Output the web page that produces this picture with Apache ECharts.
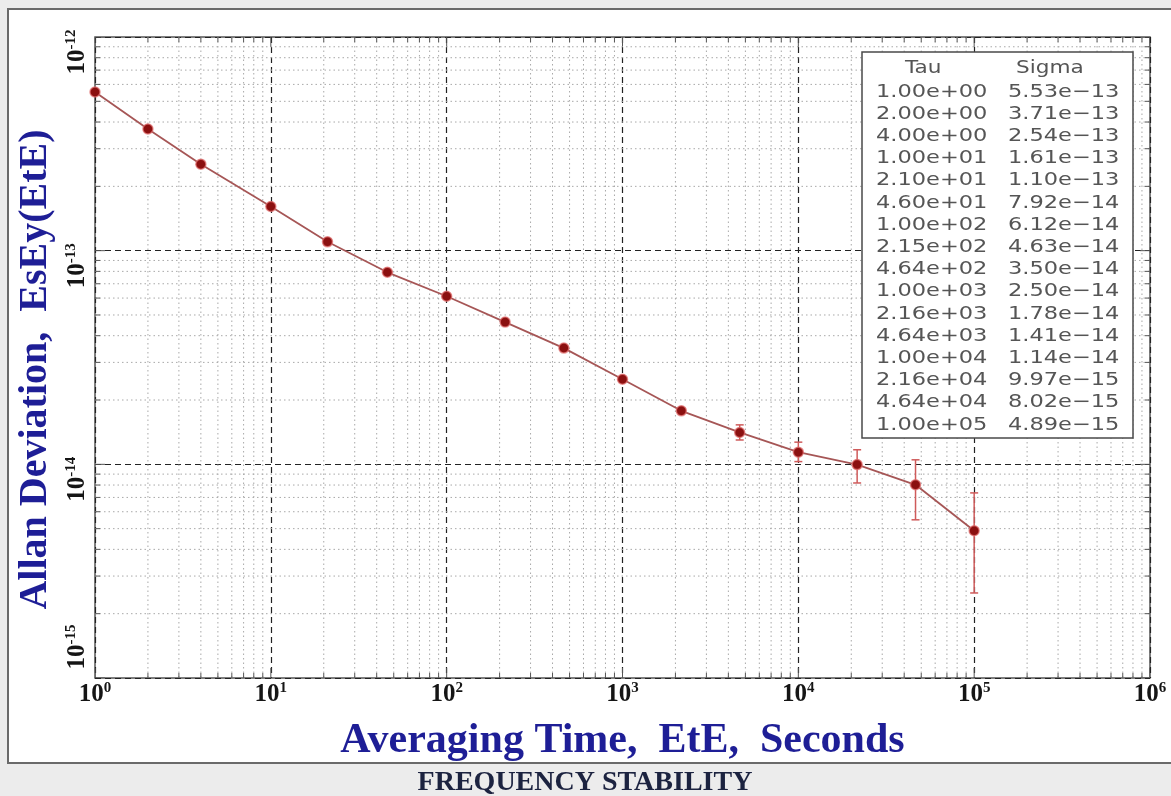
<!DOCTYPE html>
<html><head><meta charset="utf-8">
<script src="https://cdn.jsdelivr.net/npm/echarts@6/dist/echarts.min.js"></script>
<style>html,body{margin:0;padding:0;background:#ececec}#c{width:1171px;height:796px}</style>
</head><body><div id="c"></div>
<script>
// ---- data ----
const tau = [1, 2, 4, 10, 21, 46, 100, 215, 464, 1000, 2160, 4640, 10000, 21600, 46400, 100000];
const sigma = [5.53e-13, 3.71e-13, 2.54e-13, 1.61e-13, 1.10e-13, 7.92e-14, 6.12e-14, 4.63e-14,
               3.50e-14, 2.50e-14, 1.78e-14, 1.41e-14, 1.14e-14, 9.97e-15, 8.02e-15, 4.89e-15];
const errLow  = [null, null, null, null, null, null, null, null, null, null, null, 1.30e-14, 1.03e-14, 8.18e-15, 5.50e-15, 2.50e-15];
const errHigh = [null, null, null, null, null, null, null, null, null, null, null, 1.53e-14, 1.27e-14, 1.17e-14, 1.05e-14, 7.35e-15];
const xDecades = [0, 1, 2, 3, 4, 5, 6];
const yDecades = [-15, -14, -13, -12];
const tableHeader = ['Tau', 'Sigma'];
const xTitle = 'Averaging Time,  EtE,  Seconds';
const yTitle = 'Allan Deviation,  EsEy(EtE)';
const caption = 'FREQUENCY STABILITY';

function fmtExp(v, minusChar) {
  const parts = v.toExponential(2).split('e');
  const sign = parts[1][0] === '-' ? minusChar : '+';
  return parts[0] + 'e' + sign + parts[1].slice(1).padStart(2, '0');
}
function supLabel(v) {
  const e = Math.round(Math.log10(v));
  return '{b|10}{s|' + e + '}';
}
function supLabelY(v) {
  const e = Math.round(Math.log10(v));
  if (e === yDecades[0]) return '{p|}{b|10}{s|' + e + '}';
  return '{b|10}{s|' + e + '}{q|}';
}
const serif = '"Liberation Serif", "DejaVu Serif", serif';
const rich = {
  b: { fontFamily: serif, fontSize: 25, fontWeight: 'bold', color: '#151515', lineHeight: 28 },
  s: { fontFamily: serif, fontSize: 15, fontWeight: 'bold', color: '#151515', verticalAlign: 'top', lineHeight: 14 },
  p: { width: 62 },
  q: { width: 30 }
};

function renderGrid(params, api) {
  const cs = params.coordSys;
  const L = cs.x, T = cs.y, R = cs.x + cs.width, B = cs.y + cs.height;
  const ch = [];
  const minor = { stroke: '#a8a8a8', lineWidth: 1, lineDash: [1.5, 3] };
  const tick = { stroke: '#555', lineWidth: 1 };
  const y0 = Math.pow(10, yDecades[0]), x0 = Math.pow(10, xDecades[0]);
  for (let d = xDecades[0]; d <= xDecades[xDecades.length - 1]; d++) {
    const pm = api.coord([Math.pow(10, d), y0])[0];
    ch.push({ type: 'line', shape: { x1: pm, y1: B, x2: pm, y2: B - 10 }, style: tick });
    ch.push({ type: 'line', shape: { x1: pm, y1: T, x2: pm, y2: T + 10 }, style: tick });
    if (d === xDecades[xDecades.length - 1]) break;
    for (let k = 2; k <= 9; k++) {
      const px = api.coord([k * Math.pow(10, d), y0])[0];
      ch.push({ type: 'line', shape: { x1: px, y1: T, x2: px, y2: B }, style: minor });
      ch.push({ type: 'line', shape: { x1: px, y1: B, x2: px, y2: B - 5 }, style: tick });
      ch.push({ type: 'line', shape: { x1: px, y1: T, x2: px, y2: T + 5 }, style: tick });
    }
  }
  for (let d = yDecades[0]; d <= yDecades[yDecades.length - 1]; d++) {
    const pm = api.coord([x0, Math.pow(10, d)])[1];
    ch.push({ type: 'line', shape: { x1: L, y1: pm, x2: L + 10, y2: pm }, style: tick });
    ch.push({ type: 'line', shape: { x1: R, y1: pm, x2: R - 10, y2: pm }, style: tick });
    if (d === yDecades[yDecades.length - 1]) break;
    for (let k = 2; k <= 9; k++) {
      const py = api.coord([x0, k * Math.pow(10, d)])[1];
      ch.push({ type: 'line', shape: { x1: L, y1: py, x2: R, y2: py }, style: minor });
      ch.push({ type: 'line', shape: { x1: L, y1: py, x2: L + 5, y2: py }, style: tick });
      ch.push({ type: 'line', shape: { x1: R, y1: py, x2: R - 5, y2: py }, style: tick });
    }
  }
  return { type: 'group', children: ch, silent: true };
}

function renderErr(params, api) {
  const x = api.value(0), lo = api.value(1), hi = api.value(2);
  const a = api.coord([x, hi]), b = api.coord([x, lo]);
  const w = 4;
  const st = { stroke: '#cf5b5b', lineWidth: 1.5 };
  return { type: 'group', children: [
    { type: 'line', shape: { x1: a[0], y1: a[1], x2: b[0], y2: b[1] }, style: st },
    { type: 'line', shape: { x1: a[0] - w, y1: a[1], x2: a[0] + w, y2: a[1] }, style: st },
    { type: 'line', shape: { x1: b[0] - w, y1: b[1], x2: b[0] + w, y2: b[1] }, style: st }
  ] };
}

// legend table as graphic
const tbl = [];
const tblX = 862, tblY = 52, tblW = 271, tblH = 386, rowY0 = 92, rowDy = 22.2;
const tfont = '18px "DejaVu Sans", sans-serif';
tbl.push({ type: 'rect', shape: { x: tblX, y: tblY, width: tblW, height: tblH },
  style: { fill: '#fff', stroke: '#4a4a4a', lineWidth: 1.5 }, z: 20 });
tbl.push({ type: 'text', x: 905, y: 68, scaleX: 1.2, z: 21,
  style: { text: tableHeader[0], font: tfont, fill: '#555', verticalAlign: 'middle' } });
tbl.push({ type: 'text', x: 1016, y: 68, scaleX: 1.2, z: 21,
  style: { text: tableHeader[1], font: tfont, fill: '#555', verticalAlign: 'middle' } });
tau.forEach(function (t, i) {
  tbl.push({ type: 'text', x: 876, y: rowY0 + i * rowDy, scaleX: 1.25, z: 21,
    style: { text: fmtExp(t, '-'), font: tfont, fill: '#555', verticalAlign: 'middle' } });
  tbl.push({ type: 'text', x: 1008, y: rowY0 + i * rowDy, scaleX: 1.25, z: 21,
    style: { text: fmtExp(sigma[i], '\u2212'), font: tfont, fill: '#555', verticalAlign: 'middle' } });
});

const chart = echarts.init(document.getElementById('c'));
const option = {
  backgroundColor: '#ececec',
  animation: false,
  grid: { left: 95, right: 21, top: 37, bottom: 118, show: true, borderColor: '#555', borderWidth: 1.5, backgroundColor: '#fff' },
  xAxis: {
    type: 'log', logBase: 10, min: Math.pow(10, xDecades[0]), max: Math.pow(10, xDecades[xDecades.length - 1]), splitNumber: 6,
    axisLine: { show: false }, axisTick: { show: false },
    splitLine: { show: true, lineStyle: { color: '#222', width: 1.2, type: [6, 4] } },
    axisLabel: { formatter: supLabel, rich: rich, margin: 3 },
    name: xTitle, nameLocation: 'middle', nameGap: 42,
    nameTextStyle: { fontFamily: serif, fontSize: 42, fontWeight: 'bold', color: '#1e1e96' }
  },
  yAxis: {
    type: 'log', logBase: 10, min: Math.pow(10, yDecades[0]), max: Math.pow(10, yDecades[yDecades.length - 1]), splitNumber: 3,
    axisLine: { show: false }, axisTick: { show: false },
    splitLine: { show: true, lineStyle: { color: '#222', width: 1.2, type: [6, 4] } },
    axisLabel: { formatter: supLabelY, rich: rich, rotate: 90, margin: 3 },
    name: yTitle, nameLocation: 'middle', nameGap: 26, nameRotate: 90,
    nameTextStyle: { fontFamily: serif, fontSize: 40, fontWeight: 'bold', color: '#1e1e96', padding: [0, 24, 0, 0] }
  },
  graphic: [
    { type: 'rect', shape: { x: 8, y: 9, width: 1180, height: 754 }, style: { fill: '#fff', stroke: '#6a6a6a', lineWidth: 2 }, z: -10 },
    { type: 'text', x: 585, y: 783, z: 5, style: { text: caption, font: 'bold 28px ' + serif, fill: '#1c2340', align: 'center', verticalAlign: 'middle' } },
    { type: 'group', children: tbl, z: 20 }
  ],
  series: [
    { type: 'custom', renderItem: renderGrid, data: [[1, 1e-15]], z: 1, silent: true, clip: true },
    { type: 'custom', renderItem: renderErr, z: 2, silent: true,
      data: tau.map(function (t, i) { return [t, errLow[i], errHigh[i]]; }).filter(function (d) { return d[1] != null; }),
      encode: { x: 0, y: [1, 2] } },
    { type: 'line', z: 3, data: tau.map(function (t, i) { return [t, sigma[i]]; }),
      symbol: 'circle', symbolSize: 10,
      lineStyle: { color: '#a65656', width: 1.8 },
      itemStyle: { color: '#8b1010', borderColor: 'rgba(225,110,110,0.7)', borderWidth: 1.5 } }
  ]
};
chart.setOption(option);
</script></body></html>
